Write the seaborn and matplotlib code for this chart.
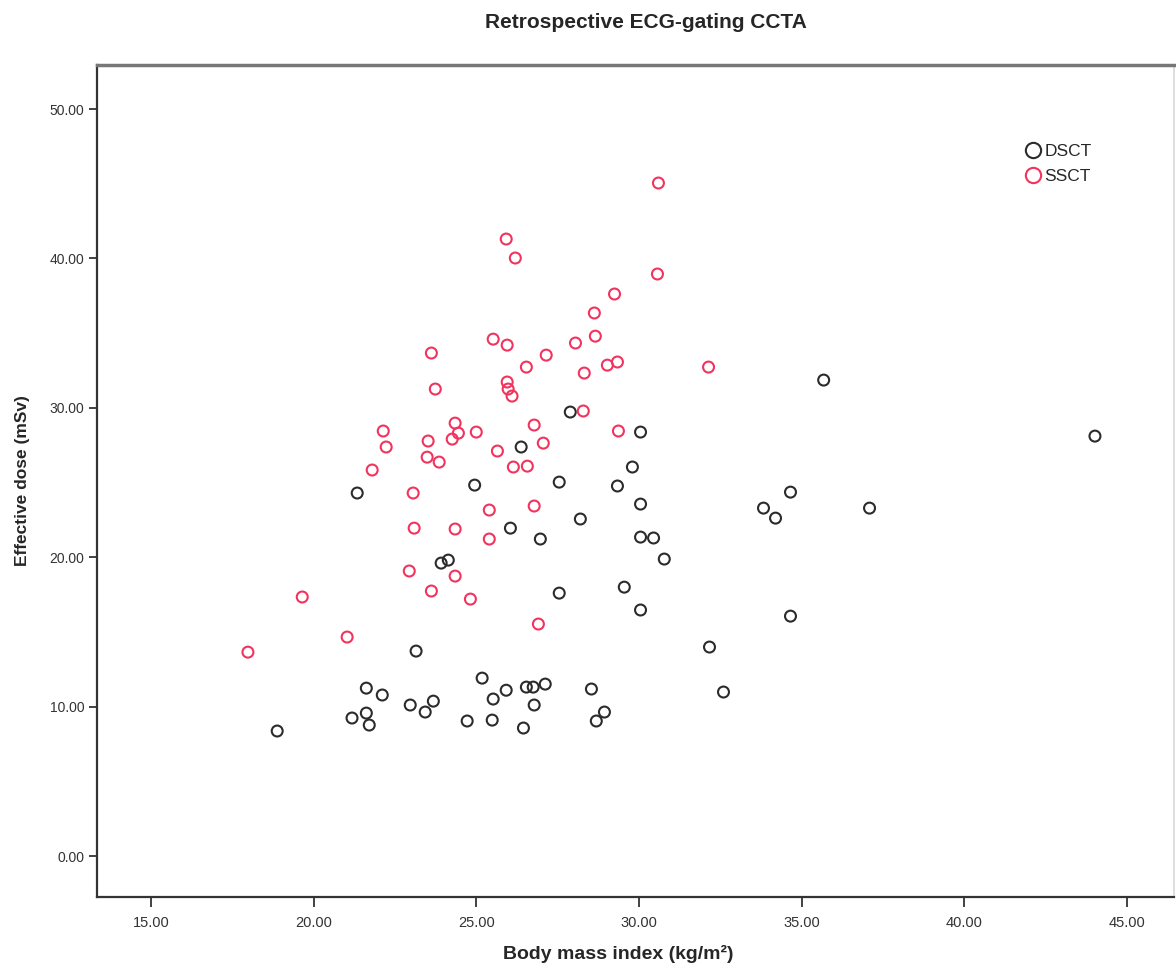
import numpy as np
import pandas as pd
import matplotlib
matplotlib.use("Agg")
import matplotlib.pyplot as plt
from matplotlib.lines import Line2D
from matplotlib import font_manager
import seaborn as sns

# ---- data ----
groups = ["DSCT", "SSCT"]

dsct_bmi = [18.88, 21.18, 21.34, 21.62, 21.62, 21.71, 22.11, 22.97, 23.43, 23.68,
            23.15, 23.92, 24.14, 24.72, 24.95, 25.18, 25.52, 25.49, 25.92, 26.05,
            26.38, 26.45, 26.54, 26.75, 26.78, 26.97, 27.12, 27.55, 27.55, 27.89,
            28.20, 28.54, 28.69, 28.94, 29.34, 29.55, 29.80, 30.05, 30.05, 30.05,
            30.05, 30.45, 30.78, 32.17, 32.60, 33.83, 34.20, 34.66, 34.66, 35.68,
            37.09, 44.02]
dsct_dose = [8.37, 9.24, 24.30, 11.24, 9.57, 8.77, 10.78, 10.11, 9.64, 10.37,
             13.72, 19.61, 19.81, 9.04, 24.83, 11.91, 10.51, 9.10, 11.10, 21.95,
             27.38, 8.57, 11.31, 11.31, 10.11, 21.22, 11.51, 25.03, 17.60, 29.72,
             22.56, 11.18, 9.04, 9.64, 24.77, 18.00, 26.04, 28.38, 23.56, 21.35,
             16.47, 21.29, 19.88, 13.99, 10.98, 23.29, 22.62, 16.06, 24.36, 31.86,
             23.29, 28.11]

ssct_bmi = [17.98, 19.65, 21.03, 21.80, 22.14, 22.23, 22.94, 23.06, 23.09, 23.49,
            23.52, 23.62, 23.62, 23.74, 23.86, 24.26, 24.35, 24.45, 24.35, 24.35,
            24.82, 25.00, 25.40, 25.40, 25.52, 25.65, 25.92, 25.95, 25.95, 25.98,
            26.10, 26.20, 26.14, 26.54, 26.57, 26.78, 26.78, 26.91, 27.06, 27.15,
            28.05, 28.32, 28.29, 28.63, 28.66, 29.03, 29.25, 29.34, 29.37, 30.60,
            30.57, 32.14]
ssct_dose = [13.65, 17.34, 14.66, 25.84, 28.45, 27.38, 19.08, 24.30, 21.95, 26.70,
             27.78, 33.67, 17.74, 31.26, 26.37, 27.91, 28.98, 28.31, 21.89, 18.74,
             17.20, 28.38, 23.16, 21.22, 34.60, 27.11, 41.30, 34.20, 31.73, 31.26,
             30.79, 40.03, 26.04, 32.73, 26.10, 28.85, 23.43, 15.53, 27.64, 33.53,
             34.34, 32.33, 29.79, 36.35, 34.80, 32.86, 37.62, 33.07, 28.45, 45.05,
             38.96, 32.73]

x_ticks = [15, 20, 25, 30, 35, 40, 45]
y_ticks = [0, 10, 20, 30, 40, 50]

colors = {"DSCT": "#2b2b2b", "SSCT": "#f2335e"}

df = pd.DataFrame({
    "bmi": dsct_bmi + ssct_bmi,
    "dose": dsct_dose + ssct_dose,
    "group": ["DSCT"] * len(dsct_bmi) + ["SSCT"] * len(ssct_bmi),
})

# ---- fonts ----
avail = {f.name for f in font_manager.fontManager.ttflist}
base = "Liberation Sans" if "Liberation Sans" in avail else "DejaVu Sans"
narrow = "Liberation Sans Narrow" if "Liberation Sans Narrow" in avail else base

sns.set_style("white")
plt.rcParams["font.family"] = [base, "DejaVu Sans"]

fig = plt.figure(figsize=(11.76, 9.71), dpi=100)
ax = fig.add_axes([97 / 1176, 1 - 897 / 971, (1174 - 97) / 1176, (897 - 65) / 971])

sns.scatterplot(data=df, x="bmi", y="dose", hue="group", palette=colors,
                hue_order=groups, s=62, linewidth=1.5, legend=False, ax=ax,
                zorder=3)
for coll in ax.collections:
    fc = coll.get_facecolors()
    coll.set_edgecolors(fc)
    coll.set_facecolors("none")

ax.set_xlim(13.34, 46.45)
ax.set_ylim(-2.74, 52.95)
ax.set_xticks(x_ticks)
ax.set_xticklabels([f"{v:.2f}" for v in x_ticks], family=[narrow, "DejaVu Sans"],
                   fontsize=10.5, color="#333333")
ax.set_yticks(y_ticks)
ax.set_yticklabels([f"{v:.2f}" for v in y_ticks], fontsize=10, color="#333333")
ax.tick_params(axis="x", direction="out", length=7, width=1.3, color="#333333", pad=7,
               bottom=True)
ax.tick_params(axis="y", direction="out", length=6, width=1.3, color="#333333", pad=3,
               left=True)

ax.set_xlabel("Body mass index (kg/m²)", fontsize=14, fontweight="bold",
              family=[narrow, "DejaVu Sans"])
ax.xaxis.set_label_coords((618 - 97) / (1174 - 97), -48 / 832)
ax.xaxis.label.set_va("top")
ax.set_ylabel("Effective dose (mSv)", fontsize=12.5, fontweight="bold", labelpad=14)

for side in ["left", "bottom"]:
    ax.spines[side].set_color("#333333")
    ax.spines[side].set_linewidth(1.6)
ax.spines["top"].set_color("#777777")
ax.spines["top"].set_linewidth(2.5)
ax.spines["right"].set_color("#d8d8d8")
ax.spines["right"].set_linewidth(1.2)

fig.text(646 / 1176, 1 - 22 / 971, "Retrospective ECG-gating CCTA", ha="center",
         va="center", fontsize=15, fontweight="bold", family=[narrow, "DejaVu Sans"])

handles = [Line2D([], [], marker="o", linestyle="none", markersize=11,
                  markerfacecolor="none", markeredgecolor=colors[g],
                  markeredgewidth=1.5, label=g) for g in groups]
leg = ax.legend(handles=handles, loc="upper left",
                bbox_to_anchor=((1016 - 97) / (1174 - 97), 1 - (137 - 65) / (897 - 65)),
                frameon=False, handletextpad=0.05, labelspacing=0.55,
                handlelength=1.2, borderaxespad=0,
                prop={"family": [narrow, "DejaVu Sans"], "size": 12.5})

fig.savefig("out.png", dpi=100)
